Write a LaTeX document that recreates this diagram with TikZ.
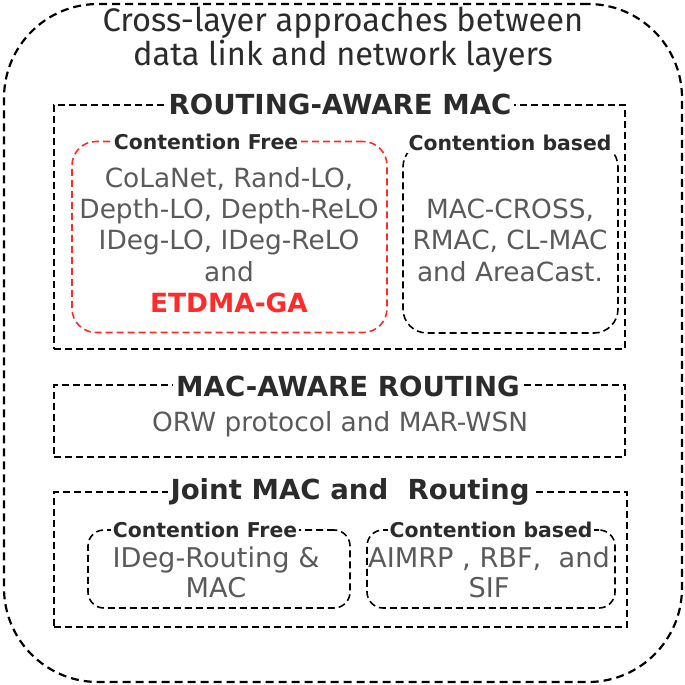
\documentclass[tikz,border=0pt]{standalone}
\usepackage{fontspec}
\setmainfont{DejaVu Sans}
\newfontfamily\titlefont{Fira Sans}
\usepackage{tikz}

\definecolor{txtgray}{HTML}{5A5A5A}
\definecolor{hdgray}{HTML}{2B2B2B}
\definecolor{etred}{HTML}{FF2A2A}

\begin{document}
\begin{tikzpicture}[x=0.5pt, y=-0.5pt,
	box/.style={draw=black, line width=0.8pt, dash pattern=on 3.5pt off 2pt, inner sep=0},
	rbox/.style={box, rounded corners=12pt},
	head/.style={fill=white, inner sep=1.5pt, text=hdgray, font=\fontsize{13.8}{16}\selectfont\bfseries},
	sub/.style={fill=white, inner sep=1pt, text=hdgray, font=\fontsize{10.2}{12}\selectfont\bfseries},
	body/.style={align=center, text=txtgray, font=\fontsize{13.2}{15.7}\selectfont}]
				\useasboundingbox (0,0) rectangle (685,685);
				
				% outer frame and title
				\node[box, line width=1.1pt, dash pattern=on 4pt off 2.5pt, rounded corners=47pt, minimum width=339pt, minimum height=339pt] (outer) at (343,343) {};
				\node[align=center, text=hdgray, font=\titlefont\fontsize{16.3}{16.8}\selectfont] (title) at (343,40) {Cross-layer approaches between\\data link and network layers};
				
				% routing-aware mac
				\node[box, minimum width=285.5pt, minimum height=122pt] (ram) at (339.5,227) {};
				\node[head] (ramh) at (340,104) {ROUTING-AWARE MAC};
				\node[rbox, draw=etred, minimum width=157.5pt, minimum height=95.5pt] (cf) at (229.5,237) {};
				\node[sub] (cfh) at (206,142) {Contention Free};
				\node[body] (cft) at (229,240) {CoLaNet, Rand-LO,\\Depth-LO, Depth-ReLO\\IDeg-LO, IDeg-ReLO\\and\\{\color{etred}\bfseries ETDMA-GA}};
				\node[rbox, minimum width=107.5pt, minimum height=95pt] (cb) at (510.5,238) {};
				\node[sub] (cbh) at (510,143) {Contention based};
				\node[body] (cbt) at (510,240) {MAC-CROSS,\\RMAC, CL-MAC\\and AreaCast.};
				
				% mac-aware routing
				\node[box, minimum width=285.5pt, minimum height=36pt] (mar) at (339.5,421) {};
				\node[head] (marh) at (348,386) {MAC-AWARE ROUTING};
				\node[body] (mart) at (340,424) {ORW protocol and MAR-WSN};
				
				% joint mac and routing
				\node[box, minimum width=286.5pt, minimum height=67.5pt] (jmr) at (340.5,559.5) {};
				\node[head] (jmrh) at (350,492) {Joint MAC and~~Routing};
				\node[rbox, rounded corners=8pt, minimum width=131pt, minimum height=39pt] (jcf) at (219,569) {};
				\node[sub] (jcfh) at (205,530) {Contention Free};
				\node[body, font=\fontsize{13.6}{15}\selectfont] (jcft) at (216,572) {IDeg-Routing \&\\MAC};
				\node[rbox, rounded corners=8pt, minimum width=124pt, minimum height=39pt] (jcb) at (491,569) {};
				\node[sub] (jcbh) at (491,530) {Contention based};
				\node[body, font=\fontsize{13.6}{15}\selectfont] (jcbt) at (489,572) {AIMRP , RBF,~~and\\SIF};
				\end{tikzpicture}
\end{document}
